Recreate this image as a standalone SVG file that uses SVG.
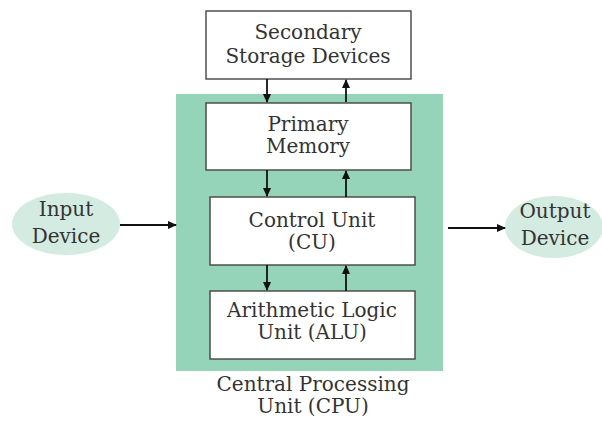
<svg xmlns="http://www.w3.org/2000/svg" width="602" height="421" viewBox="0 0 602 421">
<defs>
<marker id="ah" markerWidth="9" markerHeight="9" refX="8" refY="4.5" orient="auto" markerUnits="userSpaceOnUse">
<path d="M0,0.5 L9,4.5 L0,8.5 Z" fill="#111"/>
</marker>
<style>
.box{fill:#fff;stroke:#444;stroke-width:1.4}
.t{font-family:"DejaVu Serif","Liberation Serif",serif;font-size:20px;fill:#333;text-anchor:middle}
.c{stroke:#111;stroke-width:1.8;fill:none;marker-end:url(#ah)}
.ell{fill:#d3ebe1}
</style>
</defs>
<rect width="602" height="421" fill="#fff"/>
<g id="cpu">
<rect x="176" y="94" width="267" height="277" fill="#96d4b9"/>
<text class="t" x="313" y="391">Central Processing</text>
<text class="t" x="313" y="413">Unit (CPU)</text>
</g>
<g id="secondary">
<rect class="box" x="206" y="11" width="205" height="68"/>
<text class="t" x="308" y="39">Secondary</text>
<text class="t" x="308" y="63">Storage Devices</text>
</g>
<g id="primary">
<rect class="box" x="206" y="103" width="205" height="67"/>
<text class="t" x="308" y="131">Primary</text>
<text class="t" x="308" y="153">Memory</text>
</g>
<g id="cu">
<rect class="box" x="210" y="197" width="205" height="68"/>
<text class="t" x="312" y="227">Control Unit</text>
<text class="t" x="312" y="249">(CU)</text>
</g>
<g id="alu">
<rect class="box" x="210" y="291" width="205" height="68"/>
<text class="t" x="312" y="317">Arithmetic Logic</text>
<text class="t" x="312" y="339">Unit (ALU)</text>
</g>
<g id="input">
<ellipse class="ell" cx="66" cy="224" rx="54" ry="31"/>
<text class="t" x="66" y="216">Input</text>
<text class="t" x="66" y="243">Device</text>
</g>
<g id="output">
<ellipse class="ell" cx="554" cy="227" rx="49" ry="31"/>
<text class="t" x="555" y="218">Output</text>
<text class="t" x="555" y="245">Device</text>
</g>
<g id="connectors">
<line class="c" x1="267" y1="79" x2="267" y2="102"/>
<line class="c" x1="346" y1="102" x2="346" y2="80"/>
<line class="c" x1="267" y1="170" x2="267" y2="196"/>
<line class="c" x1="346" y1="197" x2="346" y2="171"/>
<line class="c" x1="267" y1="265" x2="267" y2="290"/>
<line class="c" x1="346" y1="291" x2="346" y2="266"/>
<line class="c" x1="120" y1="225" x2="176" y2="225"/>
<line class="c" x1="448" y1="228" x2="505" y2="228"/>
</g>
</svg>
